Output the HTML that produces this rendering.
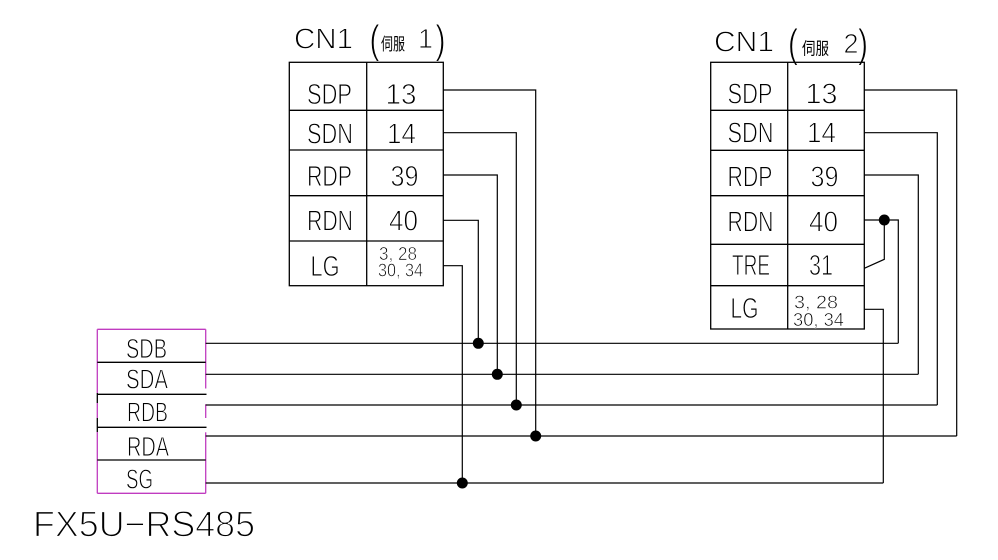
<!DOCTYPE html>
<html><head><meta charset="utf-8"><style>
html,body{margin:0;padding:0;background:#fff;}
svg{display:block;}
text{font-family:"Liberation Sans","Noto Sans CJK SC",sans-serif;fill:#000;}
.cjk{font-family:"Noto Sans CJK SC","WenQuanYi Zen Hei",sans-serif;}
.t{stroke:#fff;stroke-width:0.9px;}
.t2{stroke:#fff;stroke-width:0.6px;}
</style></head><body>
<svg width="998" height="560" viewBox="0 0 998 560" xmlns="http://www.w3.org/2000/svg">
<rect x="0" y="0" width="998" height="560" fill="#fff"/>

<!-- Titles servo 1 -->
<text class="t" x="294" y="48.5" font-size="29" textLength="59" lengthAdjust="spacingAndGlyphs">CN1</text>
<text class="t" x="369.5" y="53" font-size="40" textLength="10" lengthAdjust="spacingAndGlyphs">(</text>
<text class="cjk" x="381" y="50" font-size="17" textLength="24" lengthAdjust="spacingAndGlyphs">伺服</text>
<text class="t" x="418" y="48" font-size="28" textLength="15" lengthAdjust="spacingAndGlyphs">1</text>
<text class="t" x="435.5" y="53" font-size="40" textLength="10" lengthAdjust="spacingAndGlyphs">)</text>

<!-- Titles servo 2 -->
<text class="t" x="714" y="51.5" font-size="29" textLength="60" lengthAdjust="spacingAndGlyphs">CN1</text>
<text class="t" x="788" y="57" font-size="40" textLength="10" lengthAdjust="spacingAndGlyphs">(</text>
<text class="cjk" x="802" y="54.5" font-size="17" textLength="27" lengthAdjust="spacingAndGlyphs">伺服</text>
<text class="t" x="843.5" y="53" font-size="28" textLength="15" lengthAdjust="spacingAndGlyphs">2</text>
<text class="t" x="858" y="57" font-size="40" textLength="10" lengthAdjust="spacingAndGlyphs">)</text>

<g stroke="#000" stroke-width="1.3" fill="none">
<rect x="289.3" y="62.3" width="154" height="223.4"/>
<line x1="366.7" y1="62.3" x2="366.7" y2="285.7"/>
<line x1="289.3" y1="110.3" x2="443.3" y2="110.3"/>
<line x1="289.3" y1="150" x2="443.3" y2="150"/>
<line x1="289.3" y1="195.7" x2="443.3" y2="195.7"/>
<line x1="289.3" y1="241" x2="443.3" y2="241"/>
<rect x="710.7" y="62.3" width="153.6" height="266.7"/>
<line x1="787.7" y1="62.3" x2="787.7" y2="329"/>
<line x1="710.7" y1="110.3" x2="864.3" y2="110.3"/>
<line x1="710.7" y1="150.3" x2="864.3" y2="150.3"/>
<line x1="710.7" y1="195.7" x2="864.3" y2="195.7"/>
<line x1="710.7" y1="244.3" x2="864.3" y2="244.3"/>
<line x1="710.7" y1="285.7" x2="864.3" y2="285.7"/>
</g>

<text class="t" x="307" y="104" font-size="29" textLength="45" lengthAdjust="spacingAndGlyphs">SDP</text>
<text class="t" x="385.5" y="104" font-size="29" textLength="31" lengthAdjust="spacingAndGlyphs">13</text>
<text class="t" x="307" y="143.3" font-size="29" textLength="46" lengthAdjust="spacingAndGlyphs">SDN</text>
<text class="t" x="387" y="143.3" font-size="29" textLength="29" lengthAdjust="spacingAndGlyphs">14</text>
<text class="t" x="307" y="186" font-size="29" textLength="45" lengthAdjust="spacingAndGlyphs">RDP</text>
<text class="t" x="390.5" y="186" font-size="29" textLength="28" lengthAdjust="spacingAndGlyphs">39</text>
<text class="t" x="307" y="230.7" font-size="29" textLength="46" lengthAdjust="spacingAndGlyphs">RDN</text>
<text class="t" x="389" y="230.7" font-size="29" textLength="29" lengthAdjust="spacingAndGlyphs">40</text>
<text class="t" x="310.5" y="276" font-size="29" textLength="29" lengthAdjust="spacingAndGlyphs">LG</text>
<text class="t2" x="379" y="260" font-size="18" textLength="38" lengthAdjust="spacingAndGlyphs">3, 28</text>
<text class="t2" x="378" y="276.7" font-size="18" textLength="45" lengthAdjust="spacingAndGlyphs">30, 34</text>

<text class="t" x="727.5" y="103.3" font-size="29" textLength="45" lengthAdjust="spacingAndGlyphs">SDP</text>
<text class="t" x="805.5" y="103.3" font-size="29" textLength="32" lengthAdjust="spacingAndGlyphs">13</text>
<text class="t" x="727.5" y="142.7" font-size="29" textLength="46" lengthAdjust="spacingAndGlyphs">SDN</text>
<text class="t" x="807" y="142.7" font-size="29" textLength="29" lengthAdjust="spacingAndGlyphs">14</text>
<text class="t" x="727.5" y="186.7" font-size="29" textLength="45" lengthAdjust="spacingAndGlyphs">RDP</text>
<text class="t" x="810.5" y="186.7" font-size="29" textLength="28" lengthAdjust="spacingAndGlyphs">39</text>
<text class="t" x="727.5" y="231.7" font-size="29" textLength="46" lengthAdjust="spacingAndGlyphs">RDN</text>
<text class="t" x="809" y="231.7" font-size="29" textLength="29" lengthAdjust="spacingAndGlyphs">40</text>
<text class="t" x="732" y="275" font-size="29" textLength="38" lengthAdjust="spacingAndGlyphs">TRE</text>
<text class="t" x="809" y="275" font-size="29" textLength="24" lengthAdjust="spacingAndGlyphs">31</text>
<text class="t" x="730.5" y="318" font-size="29" textLength="28" lengthAdjust="spacingAndGlyphs">LG</text>
<text class="t2" x="794" y="308.5" font-size="18" textLength="44" lengthAdjust="spacingAndGlyphs">3, 28</text>
<text class="t2" x="793" y="326" font-size="18" textLength="51" lengthAdjust="spacingAndGlyphs">30, 34</text>

<g stroke-width="1.3" fill="none">
<line x1="97.3" y1="329.3" x2="205.7" y2="329.3" stroke="#c03cc0"/>
<line x1="97.3" y1="493.3" x2="205.7" y2="493.3" stroke="#c03cc0"/>
<line x1="97.3" y1="329.3" x2="97.3" y2="393" stroke="#c03cc0"/>
<line x1="97.3" y1="393" x2="97.3" y2="403" stroke="#000"/>
<line x1="97.3" y1="403" x2="97.3" y2="418" stroke="#c03cc0"/>
<line x1="97.3" y1="418" x2="97.3" y2="432" stroke="#000"/>
<line x1="97.3" y1="432" x2="97.3" y2="493.3" stroke="#c03cc0"/>
<line x1="205.7" y1="329.3" x2="205.7" y2="388.5" stroke="#c03cc0"/>
<line x1="205.7" y1="404.3" x2="205.7" y2="418" stroke="#c03cc0"/>
<line x1="205.7" y1="432.3" x2="205.7" y2="493.3" stroke="#c03cc0"/>
<line x1="97.3" y1="362.3" x2="205.7" y2="362.3" stroke="#000"/>
<line x1="97.3" y1="394.3" x2="206.5" y2="394.3" stroke="#000"/>
<line x1="97.3" y1="427.3" x2="206.5" y2="427.3" stroke="#000"/>
<line x1="97.3" y1="460" x2="205.7" y2="460" stroke="#000"/>
</g>
<text class="t" x="126" y="358" font-size="27.5" textLength="41" lengthAdjust="spacingAndGlyphs">SDB</text>
<text class="t" x="126" y="388.7" font-size="27.5" textLength="42" lengthAdjust="spacingAndGlyphs">SDA</text>
<text class="t" x="127" y="421.3" font-size="27.5" textLength="41" lengthAdjust="spacingAndGlyphs">RDB</text>
<text class="t" x="127" y="456" font-size="27.5" textLength="42" lengthAdjust="spacingAndGlyphs">RDA</text>
<text class="t" x="126" y="488.7" font-size="27.5" textLength="27" lengthAdjust="spacingAndGlyphs">SG</text>

<text class="t" x="33" y="536.7" font-size="36.5" textLength="222" lengthAdjust="spacingAndGlyphs" style="stroke-width:1.3px">FX5U−RS485</text>

<g stroke="#000" stroke-width="1.2" fill="none">
<polyline points="443.3,90 535.7,90 535.7,436"/>
<polyline points="443.3,132.7 516.3,132.7 516.3,405"/>
<polyline points="443.3,175 497.3,175 497.3,374"/>
<polyline points="443.3,220.3 478.3,220.3 478.3,343.3"/>
<polyline points="443.3,265.7 462.3,265.7 462.3,483"/>
<polyline points="864.3,90 956.7,90 956.7,436"/>
<polyline points="864.3,132.7 937.3,132.7 937.3,405"/>
<polyline points="864.3,175 918.3,175 918.3,374.3"/>
<polyline points="864.3,220 898.3,220 898.3,343.3"/>
<polyline points="864.3,268.3 884.3,259.3 884.3,220"/>
<polyline points="864.3,309.3 883.3,309.3 883.3,483"/>
<line x1="205.7" y1="343.3" x2="898.3" y2="343.3"/>
<line x1="205.7" y1="374.3" x2="918.3" y2="374.3"/>
<line x1="205.7" y1="405" x2="937.3" y2="405"/>
<line x1="205.7" y1="436" x2="956.7" y2="436"/>
<line x1="205.7" y1="483" x2="883.3" y2="483"/>
</g>

<g fill="#000">
<circle cx="478.3" cy="343.3" r="5.5"/>
<circle cx="497.3" cy="374.3" r="5.5"/>
<circle cx="516.3" cy="405" r="5.5"/>
<circle cx="535.7" cy="436" r="5.5"/>
<circle cx="462.3" cy="483" r="5.5"/>
<circle cx="884.3" cy="220" r="5.5"/>
</g>
</svg>
</body></html>
